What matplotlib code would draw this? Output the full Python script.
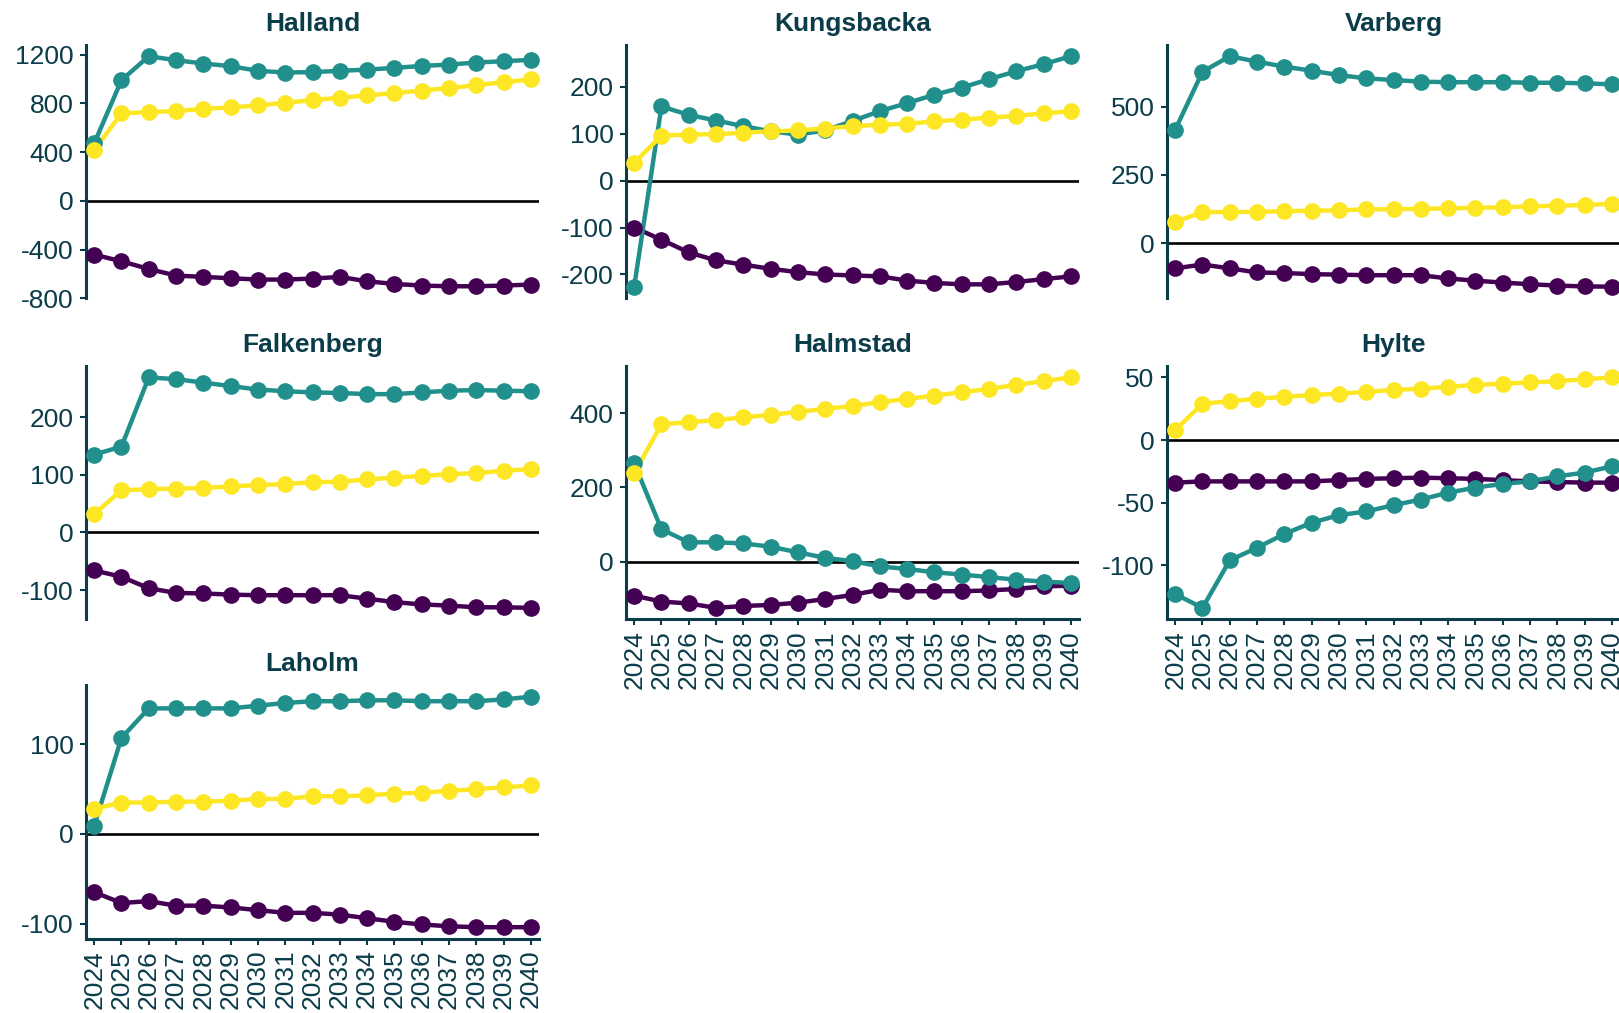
import matplotlib
matplotlib.use("Agg")
import matplotlib.pyplot as plt

plt.rcParams['font.family'] = ['Liberation Sans', 'DejaVu Sans']
plt.rcParams['axes.unicode_minus'] = False

years = list(range(2024, 2041))

kommuner = ["Halland", "Kungsbacka", "Varberg", "Falkenberg", "Halmstad", "Hylte", "Laholm"]

# three series per kommun
teal = {
    "Halland": [472, 991, 1188, 1155, 1128, 1106, 1068, 1054, 1057, 1068, 1078, 1092, 1108, 1119, 1136, 1147, 1158],
    "Kungsbacka": [-226, 158, 140, 128, 116, 105, 98, 107, 127, 148, 165, 183, 198, 216, 233, 248, 265],
    "Varberg": [415, 627, 684, 664, 646, 631, 615, 603, 597, 591, 589, 589, 589, 587, 587, 585, 581],
    "Falkenberg": [135, 149, 269, 266, 260, 254, 248, 245, 243, 242, 240, 240, 243, 246, 247, 246, 245],
    "Halmstad": [265, 87, 52, 52, 49, 40, 25, 10, 1, -13, -20, -29, -35, -42, -49, -54, -58],
    "Hylte": [-123, -134, -96, -86, -75, -66, -60, -57, -52, -47.5, -42, -38, -35, -33, -29, -26, -21],
    "Laholm": [9, 107, 140, 140, 140, 140, 143, 146, 148, 148, 149, 149, 148, 148, 148, 150, 153],
}
yellow = {
    "Halland": [418, 718, 729, 737, 756, 767, 784, 805, 827, 846, 866, 885, 906, 926, 950, 975, 997],
    "Kungsbacka": [38, 96, 98, 99, 102, 105, 107, 111, 116, 119, 121, 126, 130, 134, 138, 143, 148],
    "Varberg": [78, 114, 114, 115, 117, 119, 120, 124, 124, 126, 127, 130, 131, 135, 137, 140, 144],
    "Falkenberg": [32, 73, 75, 76, 77, 80, 82, 84, 87, 88, 92, 95, 98, 101, 103, 107, 110],
    "Halmstad": [238, 371, 376, 382, 389, 396, 404, 412, 420, 430, 439, 448, 457, 466, 477, 487, 497],
    "Hylte": [8, 29, 31, 33, 34.5, 36, 37, 38.5, 40, 41, 42.5, 44, 45, 46, 47, 48.5, 50],
    "Laholm": [28, 35, 35, 36, 36, 37, 39, 39, 42, 42, 43, 45, 46, 48, 50, 52, 54],
}
purple = {
    "Halland": [-442, -497, -560, -614, -625, -636, -647, -647, -639, -625, -661, -683, -696, -702, -702, -696, -688],
    "Kungsbacka": [-100, -126, -153, -170, -179, -188, -195, -200, -202, -204, -213, -218, -221, -221, -216, -210, -204],
    "Varberg": [-92, -78, -92, -107, -109, -113, -115, -117, -117, -117, -129, -137, -144, -150, -155, -158, -159],
    "Falkenberg": [-66, -77, -97, -105, -106, -108, -109, -109, -109, -109, -115, -121, -125, -127, -130, -130, -131],
    "Halmstad": [-92, -108, -113, -125, -120, -117, -111, -101, -90, -76, -80, -80, -80, -78, -74, -67, -65],
    "Hylte": [-34, -33, -33, -33, -33, -33, -32, -31, -30.5, -30, -30.5, -31, -32, -33, -33.5, -34, -34],
    "Laholm": [-65, -77, -75, -80, -80, -82, -85, -88, -88, -90, -94, -98, -101, -103, -104, -104, -104],
}

yticks = {
    "Halland": [-800, -400, 0, 400, 800, 1200],
    "Kungsbacka": [-200, -100, 0, 100, 200],
    "Varberg": [0, 250, 500],
    "Falkenberg": [-100, 0, 100, 200],
    "Halmstad": [0, 200, 400],
    "Hylte": [-100, -50, 0, 50],
    "Laholm": [-100, 0, 100],
}

textcol = "#0B3C49"
colors = [("#440154", purple), ("#21908C", teal), ("#FDE725", yellow)]

fig = plt.figure(figsize=(16.19, 10.13), dpi=100)

lefts = [86 / 1619, 626 / 1619, 1167 / 1619]
width = 453 / 1619
bottoms = [1 - 298.2 / 1013, 1 - 619.4 / 1013, 1 - 938.7 / 1013]
height = 253.5 / 1013

for i, k in enumerate(kommuner):
    row, col = divmod(i, 3)
    ax = fig.add_axes([lefts[col], bottoms[row], width, height])
    ax.axhline(0, color="black", lw=1.9, zorder=1)
    for c, d in colors:
        ax.plot(years, d[k], color=c, lw=3.2, zorder=2, clip_on=False)
    for c, d in colors:
        ax.plot(years, d[k], "o", color=c, ms=11, zorder=3, clip_on=False)
    ax.set_xlim(2023.7, 2040.3)
    ax.margins(y=0.05)
    ax.set_yticks(yticks[k])
    ax.set_title(k, fontsize=19, fontweight="bold", color=textcol, pad=10)
    for s in ["top", "right"]:
        ax.spines[s].set_visible(False)
    ax.spines["left"].set_color(textcol)
    ax.spines["left"].set_linewidth(2.2)
    ax.tick_params(axis="y", colors=textcol, labelsize=19, length=4, width=1.5, pad=5)
    bottom_panel = k in ("Laholm", "Halmstad", "Hylte")
    if bottom_panel:
        ax.spines["bottom"].set_color(textcol)
        ax.spines["bottom"].set_linewidth(2.2)
        ax.set_xticks(years)
        ax.set_xticklabels([str(y) for y in years], rotation=90)
        ax.tick_params(axis="x", colors=textcol, labelsize=19, length=4, width=1.5, pad=4)
    else:
        ax.spines["bottom"].set_visible(False)
        ax.set_xticks([])

fig.savefig("out.png", dpi=100)
